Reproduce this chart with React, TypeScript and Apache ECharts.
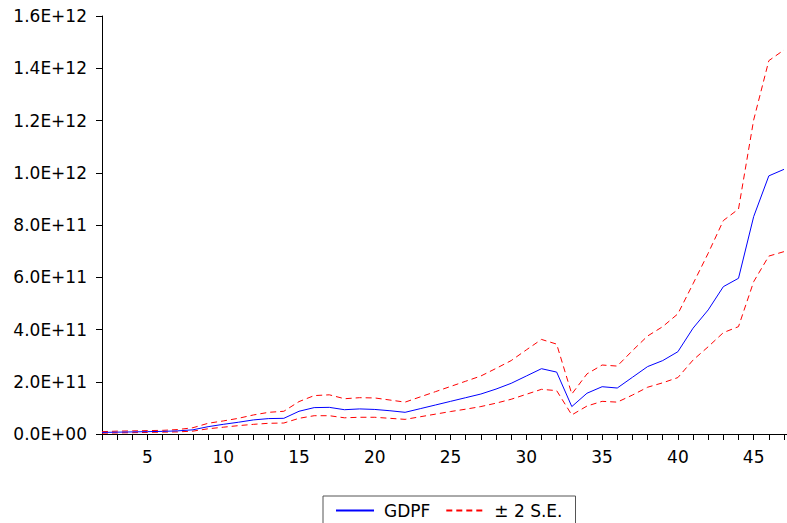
import React, { useEffect, useRef } from "react";
import * as echarts from "echarts";

// Observation index (x axis)
const periods: number[] = Array.from({ length: 46 }, (_, i) => i + 2);

// Values in units of 1E+11
const gdpf: number[] = [
  0.06, 0.07, 0.08, 0.09, 0.10, 0.12, 0.16, 0.28, 0.37, 0.45,
  0.54, 0.59, 0.60, 0.87, 1.01, 1.02, 0.93, 0.96, 0.94, 0.89,
  0.83, 0.97, 1.11, 1.25, 1.39, 1.53, 1.72, 1.94, 2.22, 2.50,
  2.37, 1.05, 1.56, 1.81, 1.76, 2.17, 2.58, 2.81, 3.15, 4.05,
  4.75, 5.64, 5.96, 8.32, 9.88, 10.13,
];
const upper: number[] = [
  0.09, 0.11, 0.12, 0.13, 0.14, 0.17, 0.24, 0.41, 0.50, 0.60,
  0.73, 0.83, 0.87, 1.24, 1.47, 1.50, 1.35, 1.39, 1.38, 1.30,
  1.22, 1.42, 1.62, 1.82, 2.02, 2.22, 2.51, 2.81, 3.22, 3.62,
  3.44, 1.53, 2.30, 2.64, 2.60, 3.19, 3.75, 4.11, 4.60, 5.75,
  6.92, 8.17, 8.61, 12.02, 14.29, 14.70,
];
const lower: number[] = [
  0.03, 0.04, 0.05, 0.06, 0.07, 0.08, 0.11, 0.20, 0.26, 0.32,
  0.37, 0.41, 0.42, 0.60, 0.70, 0.70, 0.62, 0.64, 0.64, 0.60,
  0.56, 0.66, 0.76, 0.86, 0.95, 1.05, 1.18, 1.33, 1.52, 1.71,
  1.66, 0.73, 1.07, 1.25, 1.22, 1.49, 1.79, 1.96, 2.16, 2.83,
  3.34, 3.88, 4.11, 5.83, 6.81, 6.98,
];
const UNIT = 1e11;

const seriesNames = ["GDPF", "± 2 S.E."];

const FONT = "'DejaVu Sans', 'Liberation Sans', Arial, sans-serif";

function fmtExp(v: number): string {
  const [m, e] = v.toExponential(1).split("e");
  const sign = e.startsWith("-") ? "-" : "+";
  const digits = e.replace(/[+-]/, "").padStart(2, "0");
  return `${m}E${sign}${digits}`;
}

function toData(arr: number[]) {
  return periods.map((p, i) => [p, arr[i] * UNIT]);
}

export default function App() {
  const ref = useRef<HTMLDivElement>(null);
  useEffect(() => {
    if (!ref.current) return;
    const chart = echarts.init(ref.current, undefined, { renderer: "svg" });
    const dashed = { type: [6, 4] as any, width: 1, color: "#FF0000" };
    chart.setOption({
      animation: false,
      backgroundColor: "#ffffff",
      grid: { left: 102, right: 0, top: 16, bottom: 89, containLabel: false },
      legend: {
        data: seriesNames,
        left: 323,
        top: 496,
        orient: "horizontal",
        itemWidth: 38,
        itemHeight: 14,
        itemGap: 15,
        padding: [6, 13, 16, 12],
        borderColor: "#555555",
        borderWidth: 1,
        itemStyle: { opacity: 0 },
        textStyle: { fontFamily: FONT, fontSize: 17, color: "#000", padding: [0, 0, 0, 5] },
      },
      xAxis: [
        {
          type: "value",
          min: 2,
          max: 47.2,
          interval: 1,
          splitLine: { show: false },
          axisLine: { show: true, onZero: false, lineStyle: { color: "#000", width: 1 } },
          axisTick: { show: true, inside: false, length: 6, lineStyle: { color: "#000" } },
          axisLabel: {
            margin: 14,
            fontFamily: FONT,
            fontSize: 17,
            color: "#000",
            showMaxLabel: false,
            formatter: (v: number) => (Number.isInteger(v) && v % 5 === 0 ? String(v) : ""),
          },
        },
        {
          type: "value",
          position: "top",
          min: 2,
          max: 47.2,
          axisLine: { show: true, lineStyle: { color: "#000", width: 1 } },
          axisTick: { show: false },
          axisLabel: { show: false },
          splitLine: { show: false },
        },
      ],
      yAxis: {
        type: "value",
        min: 0,
        max: 1.6e12,
        interval: 2e11,
        splitLine: { show: false },
        axisLine: { show: true, lineStyle: { color: "#000", width: 1 } },
        axisTick: { show: true, inside: false, length: 6, lineStyle: { color: "#000" } },
        axisLabel: {
          margin: 15,
          fontFamily: FONT,
          fontSize: 17,
          color: "#000",
          formatter: (v: number) => fmtExp(v),
        },
      },
      series: [
        {
          name: seriesNames[0],
          type: "line",
          xAxisIndex: 0,
          data: toData(gdpf),
          symbol: "none",
          lineStyle: { color: "#0000FF", width: 1 },
          itemStyle: { color: "#0000FF" },
          z: 3,
        },
        {
          name: seriesNames[1],
          type: "line",
          xAxisIndex: 0,
          data: toData(upper),
          symbol: "none",
          lineStyle: dashed,
          itemStyle: { color: "#FF0000" },
          z: 2,
        },
        {
          name: seriesNames[1],
          type: "line",
          xAxisIndex: 0,
          data: toData(lower),
          symbol: "none",
          lineStyle: dashed,
          itemStyle: { color: "#FF0000" },
          z: 2,
        },
      ],
    });
    return () => chart.dispose();
  }, []);
  return (
    <div
      ref={ref}
      style={{ position: "fixed", left: 0, top: 0, width: 787, height: 523, background: "#fff" }}
    />
  );
}
